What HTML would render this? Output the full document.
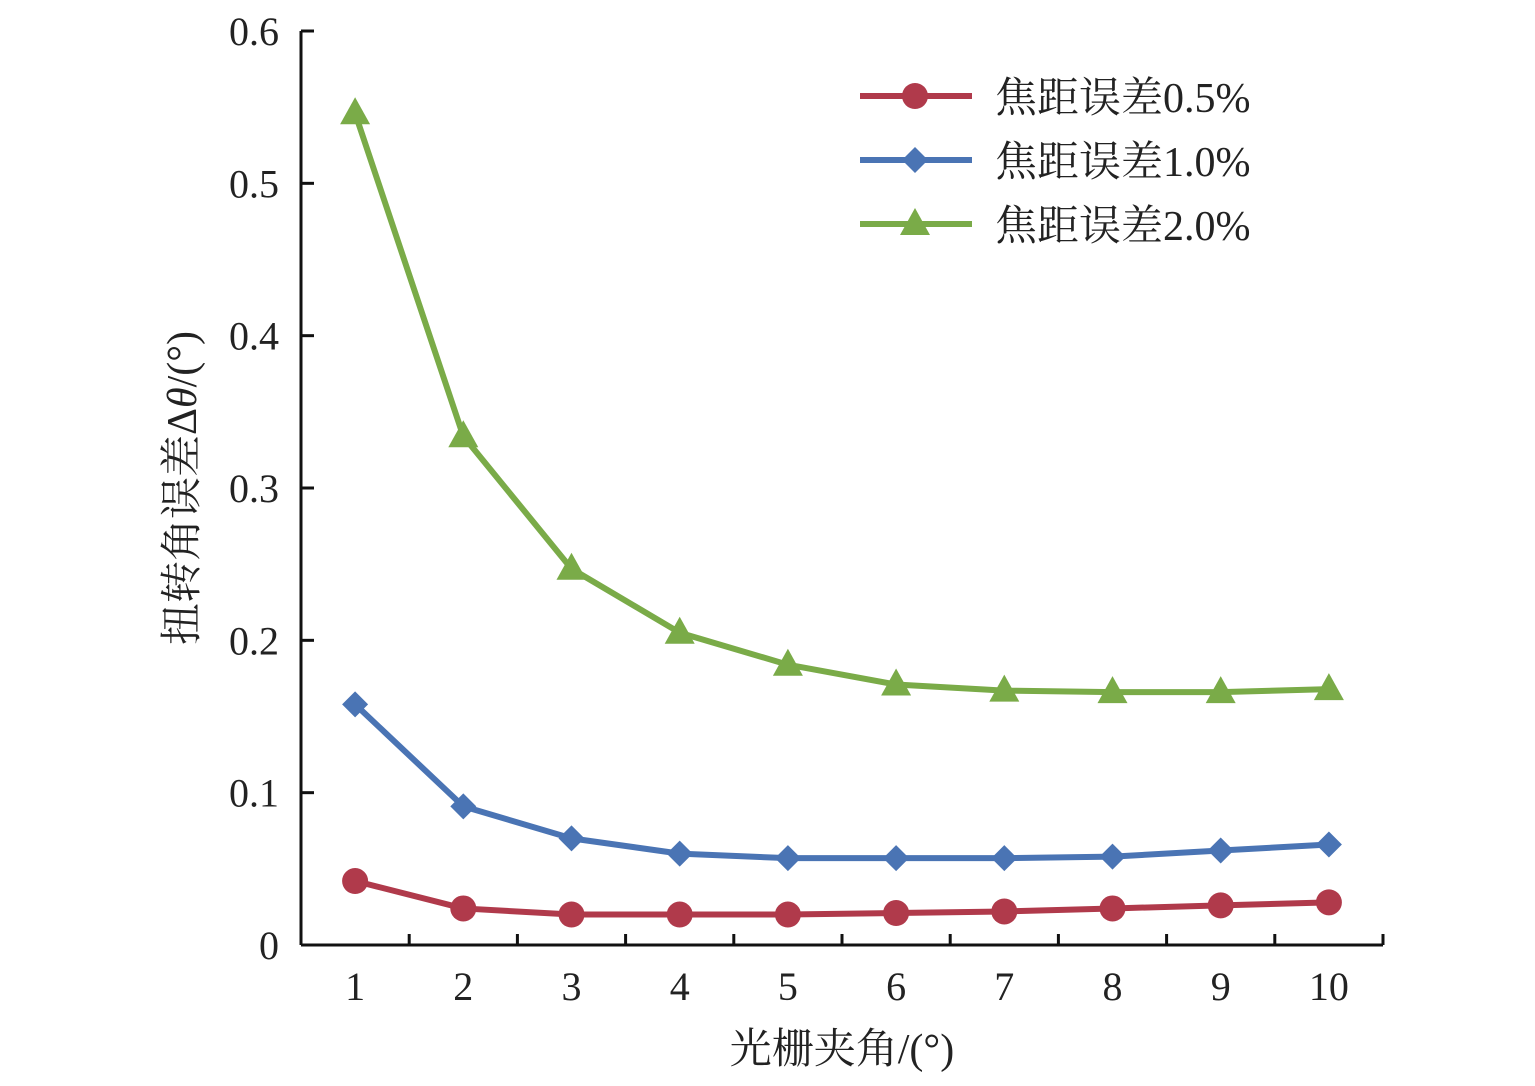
<!DOCTYPE html>
<html><head><meta charset="utf-8"><style>
html,body{margin:0;padding:0;background:#fff;}
svg text{font-family:"Liberation Serif","Noto Serif CJK SC",serif;fill:#222;}
</style></head><body>
<svg id="chart" width="1535" height="1081" xmlns="http://www.w3.org/2000/svg"></svg>
<script>
const categories=[1,2,3,4,5,6,7,8,9,10];
const yTicks=[0,0.1,0.2,0.3,0.4,0.5,0.6];
const yTickLabels=["0","0.1","0.2","0.3","0.4","0.5","0.6"];
const series05=[0.042,0.024,0.020,0.020,0.020,0.021,0.022,0.024,0.026,0.028];
const series10=[0.158,0.091,0.070,0.060,0.057,0.057,0.057,0.058,0.062,0.066];
const series20=[0.546,0.334,0.247,0.205,0.184,0.171,0.167,0.166,0.166,0.168];
const seriesNames=["焦距误差0.5%","焦距误差1.0%","焦距误差2.0%"];

const NS="http://www.w3.org/2000/svg";
const svg=document.getElementById('chart');
const X0=301,X1=1383,Y0=945,Y1=31,YMAX=0.6;
const bw=(X1-X0)/categories.length;
function xPos(i){return X0+bw*(i+0.5);}
function yPos(v){return Y0-(v/YMAX)*(Y0-Y1);}
function mk(tag,attrs){const e=document.createElementNS(NS,tag);for(const k in attrs)e.setAttribute(k,attrs[k]);svg.appendChild(e);return e;}

let e;
e=mk('line',{x1:X0,y1:Y1,x2:X0,y2:Y0,stroke:'#111','stroke-width':3});


e=mk('line',{x1:X0,y1:Y0,x2:X1,y2:Y0,stroke:'#111','stroke-width':3});



yTicks.forEach((t,i)=>{
  const y=yPos(t);
  e=mk('line',{x1:X0,y1:y,x2:X0+13,y2:y,stroke:'#111','stroke-width':3});
  
  
  e=mk('text',{x:279,y:y+14,'text-anchor':'end','font-size':40});
  e.textContent=yTickLabels[i];
  
  
});
for(let i=1;i<=categories.length;i++){
  const x=X0+bw*i;
  e=mk('line',{x1:x,y1:Y0,x2:x,y2:Y0-11,stroke:'#111','stroke-width':3});
  
  
}
categories.forEach((c,i)=>{
  e=mk('text',{x:xPos(i),y:1000,'text-anchor':'middle','font-size':40});
  e.textContent=c;
  
  
});

e=mk('text',{x:842,y:1063,'text-anchor':'middle','font-size':42});
e.textContent='光栅夹角/(°)';


e=mk('text',{x:0,y:0,'text-anchor':'middle','font-size':42,transform:'translate(196,488) rotate(-90)'});
e.innerHTML='扭转角误差Δ<tspan font-style="italic">θ</tspan>/(°)';



function marker(type,x,y,color){
  let m;
  if(type==='circle') m=mk('circle',{cx:x,cy:y,r:13,fill:color});
  else if(type==='diamond') m=mk('polygon',{points:`${x},${y-13} ${x+13},${y} ${x},${y+13} ${x-13},${y}`,fill:color});
  else m=mk('polygon',{points:`${x},${y-16} ${x+15},${y+11} ${x-15},${y+11}`,fill:color});
  return m;
}
const defs=[[series05,'#b03a4b','circle'],[series10,'#4a74b4','diamond'],[series20,'#7aab48','triangle']];
defs.forEach(([vals,color,type],si)=>{
  const pts=vals.map((v,i)=>xPos(i)+','+yPos(v)).join(' ');
  e=mk('polyline',{points:pts,fill:'none',stroke:color,'stroke-width':6,'stroke-linejoin':'round'});
  
  
  vals.forEach((v,i)=>{
    e=marker(type,xPos(i),yPos(v),color);
    
    
  });
  const ly=96+si*64;
  e=mk('line',{x1:860,y1:ly,x2:972,y2:ly,stroke:color,'stroke-width':6});
  
  
  e=marker(type,915,ly,color);
  
  
  e=mk('text',{x:995,y:ly+16,'font-size':42});
  e.textContent=seriesNames[si];
  
  
});
</script>
</body></html>
